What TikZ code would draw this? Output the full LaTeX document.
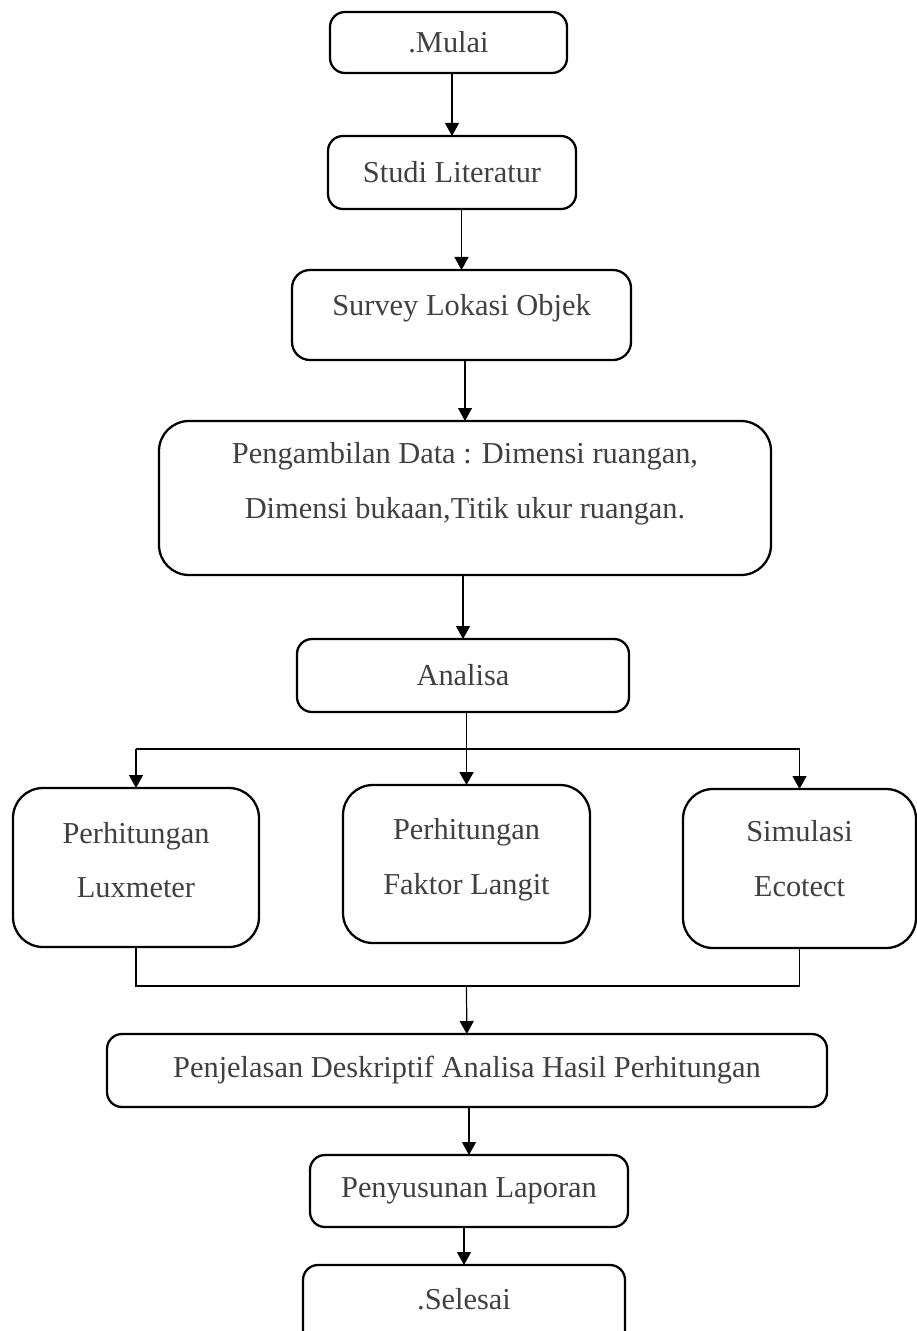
\documentclass[tikz,border=0pt]{standalone}
\usepackage{fontspec}
\setmainfont{Liberation Serif}
\usetikzlibrary{positioning,arrows.meta}
\definecolor{textcolor}{RGB}{64,64,64}

\begin{document}
\begin{tikzpicture}[
    font=\fontsize{17.3}{31}\selectfont,
    box/.style={rectangle, draw, line width=1.3pt, rounded corners=3mm, align=center, text=textcolor, inner sep=0pt, outer sep=0pt},
    bigbox/.style={box, rounded corners=6mm, minimum height=31.8mm},
    arrow/.style={-{Triangle[length=2.6mm,width=2.8mm]}, line width=0.7pt},
    bar/.style={line width=1.1pt}
]

\useasboundingbox (0,0) rectangle (183.4mm,-266.2mm);

% Main flow (top to bottom)
\node[box, minimum width=47.4mm, minimum height=12.2mm] (mulai) at (89.7mm,-8.5mm) {.Mulai};
\node[box, minimum width=49.6mm, minimum height=14.6mm, below=12.6mm of mulai, xshift=0.7mm] (studi) {Studi Literatur};
\node[box, rounded corners=3.6mm, minimum width=67.8mm, minimum height=18mm, text depth=4mm, below=12.2mm of studi, xshift=1.9mm] (survey) {Survey Lokasi Objek};
\node[bigbox, minimum width=122.4mm, minimum height=30.8mm, text depth=7mm, below=12.2mm of survey, xshift=0.7mm] (peng) {
    Pengambilan Data : Dimensi ruangan,\\
    Dimensi bukaan,Titik ukur ruangan.
};
\node[box, minimum width=66.4mm, minimum height=14.6mm, below=12.8mm of peng, xshift=-0.4mm] (analisa) {Analisa};

% Three parallel analyses
\node[bigbox, minimum width=49.4mm, minimum height=31.6mm, text depth=3mm, below=14.6mm of analisa, xshift=0.7mm] (faktor) {Perhitungan\\Faktor Langit};
\node[bigbox, minimum width=49.2mm, text depth=3mm, left=16.8mm of faktor, yshift=-0.7mm] (lux) {Perhitungan\\Luxmeter};
\node[bigbox, minimum width=46.6mm, text depth=4mm, right=18.6mm of faktor, yshift=-0.9mm] (sim) {Simulasi\\Ecotect};

% Closing steps
\node[box, minimum width=144mm, minimum height=14.6mm, below=18.2mm of faktor, xshift=0.1mm] (penj) {Penjelasan Deskriptif Analisa Hasil Perhitungan};
\node[box, minimum width=63.6mm, minimum height=14.4mm, below=9.6mm of penj, xshift=0.4mm] (peny) {Penyusunan Laporan};
\node[box, minimum width=64.4mm, minimum height=16.4mm, text depth=2.8mm, below=7.6mm of peny, xshift=-1mm] (selesai) {.Selesai};

% Branch points
\coordinate[below=7.4mm of analisa] (split);
\coordinate[below=8.6mm of faktor] (merge);

% Arrows
\draw[arrow] (studi.north |- mulai.south) -- (studi);
\draw[arrow] (survey.north |- studi.south) -- (survey);
\draw[arrow] (peng.north |- survey.south) -- (peng);
\draw[arrow] (analisa.north |- peng.south) -- (analisa);

\draw[bar] (lux.north |- split) -- (sim.north |- split);
\draw[arrow, line width=1.1pt] (faktor.north |- analisa.south) -- (faktor);
\draw[arrow] (lux.north |- split) -- (lux);
\draw[arrow] (sim.north |- split) -- (sim);

\draw[bar] (lux.south) |- (merge) -| (sim.south);
\draw[arrow] (merge) -- (penj);
\draw[arrow] (peny.north |- penj.south) -- (peny);
\draw[arrow] (selesai.north |- peny.south) -- (selesai);

\end{tikzpicture}
\end{document}
